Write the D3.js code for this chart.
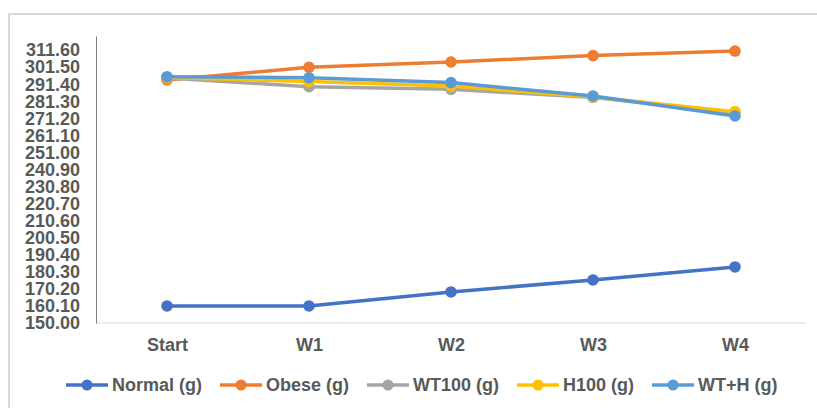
<!DOCTYPE html>
<html><head><meta charset="utf-8">
<script src="https://cdn.jsdelivr.net/npm/d3@7"></script>
<style>body{margin:0;background:#fff}svg{display:block}</style>
</head><body>
<svg id="c" width="817" height="408"></svg>
<script>
const categories = ["Start","W1","W2","W3","W4"];
const seriesNames = ["Normal (g)","Obese (g)","WT100 (g)","H100 (g)","WT+H (g)"];
const normal = [160.1, 160.1, 168.4, 175.5, 183.2];
const obese  = [294.0, 301.5, 304.6, 308.4, 311.1];
const wt100  = [295.1, 290.0, 288.4, 283.6, 274.7];
const h100   = [295.4, 293.0, 290.4, 283.9, 275.2];
const wth    = [295.9, 295.3, 292.4, 284.5, 272.6];
const yTicks = [150.00,160.10,170.20,180.30,190.40,200.50,210.60,220.70,230.80,240.90,251.00,261.10,271.20,281.30,291.40,301.50,311.60];
const colors = ["#4472C4","#ED7D31","#A5A5A5","#FFC000","#5B9BD5"];
const seriesValues = [normal, obese, wt100, h100, wth];

const svg = d3.select("#c");
const font = "'Liberation Sans', Arial, sans-serif";
const txt = "#595959";

// chart border
svg.append("rect").attr("x",9).attr("y",14).attr("width",830).attr("height",420)
  .attr("fill","none").attr("stroke","#d9d9d9").attr("stroke-width",2);

const x = d3.scalePoint().domain(categories).range([96,806]).padding(0.5);
const y = d3.scaleLinear().domain([150,320]).range([323,36]);

// horizontal axis line
svg.append("line").attr("x1",96).attr("x2",806).attr("y1",y(150)).attr("y2",y(150))
  .attr("stroke","#d9d9d9").attr("stroke-width",1);

// y axis
const ya = svg.append("g").attr("transform","translate(96,0)")
  .call(d3.axisLeft(y).tickValues(yTicks).tickFormat(d3.format(".2f")).tickSize(0).tickPadding(16));
ya.select(".domain").attr("stroke","#7f7f7f").attr("stroke-width",1);
ya.selectAll("text").attr("font-family",font).attr("font-size",18).attr("font-weight","bold").attr("fill",txt);

// x labels
const xa = svg.append("g").attr("transform","translate(0,323)")
  .call(d3.axisBottom(x).tickSize(0).tickPadding(15));
xa.select(".domain").remove();
xa.selectAll("text").attr("font-family",font).attr("font-size",18).attr("font-weight","bold").attr("fill",txt);

const line = d3.line().x((d,i)=>x(categories[i])).y(d=>y(d));
seriesValues.forEach((vals,si)=>{
  const g = svg.append("g");
  g.append("path").datum(vals).attr("d",line).attr("fill","none")
    .attr("stroke",colors[si]).attr("stroke-width",3.5).attr("stroke-linejoin","round");
  g.selectAll("circle").data(vals).join("circle")
    .attr("cx",(d,i)=>x(categories[i])).attr("cy",d=>y(d)).attr("r",5.8).attr("fill",colors[si]);
});

// legend
const lg = svg.append("g");
let lx = 66; const ly = 385;
seriesNames.forEach((n,si)=>{
  const g = lg.append("g");
  g.append("line").attr("x1",lx).attr("x2",lx+42).attr("y1",ly).attr("y2",ly)
    .attr("stroke",colors[si]).attr("stroke-width",3.5);
  g.append("circle").attr("cx",lx+21).attr("cy",ly).attr("r",5.5).attr("fill",colors[si]);
  const t = g.append("text").attr("x",lx+46).attr("y",ly).attr("dy","0.35em")
    .attr("font-family",font).attr("font-size",18).attr("font-weight","bold").attr("fill",txt).text(n);
  lx += 46 + t.node().getComputedTextLength() + 18;
});
</script>
</body></html>
